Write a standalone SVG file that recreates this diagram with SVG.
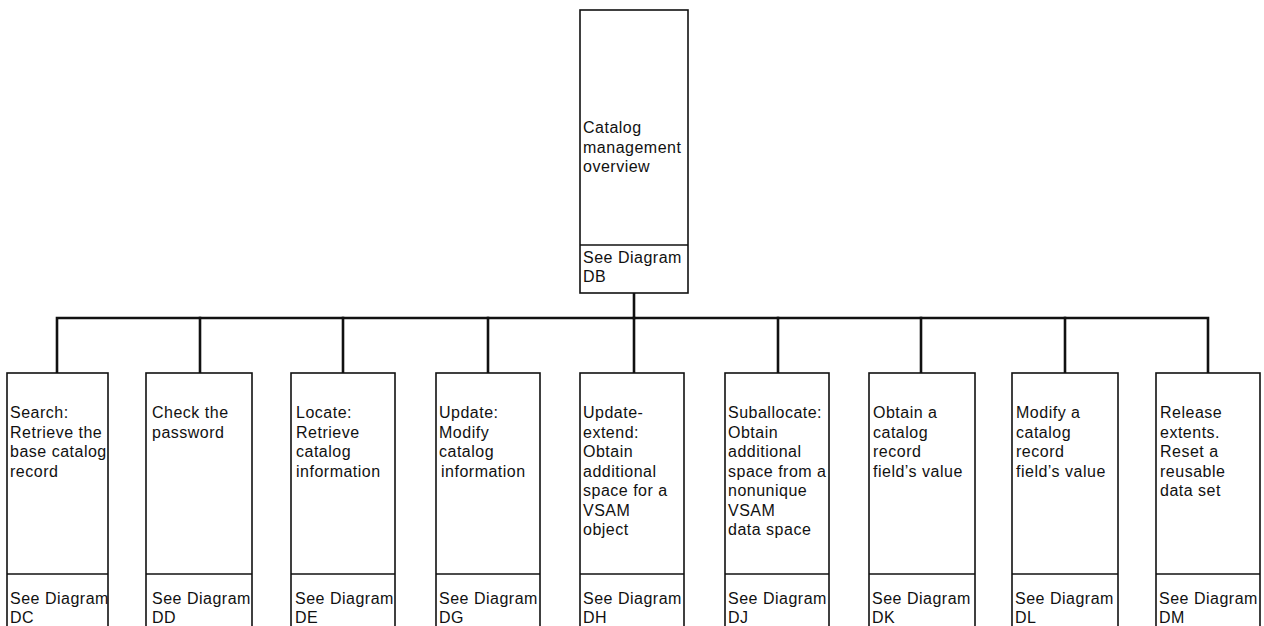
<svg xmlns="http://www.w3.org/2000/svg" width="1264" height="626" viewBox="0 0 1264 626">
  <style>
    .box { fill: #ffffff; stroke: #111111; stroke-width: 1.6; }
    .div { stroke: #111111; stroke-width: 1.6; }
    .wire { fill: none; stroke: #111111; stroke-width: 2.6; stroke-linecap: square; }
    text { font-family: "Liberation Sans", Arial, sans-serif; font-size: 16px; letter-spacing: 0.5px; fill: #111111; }
  </style>
  <rect width="1264" height="626" fill="#ffffff"/>

  <!-- connectors: trunk from the overview box, horizontal bus, drops to each box -->
  <g id="connectors">
    <path class="wire" d="M634 293 V318"/>
    <path class="wire" d="M57 373 V318 H1208 V373"/>
    <path class="wire" d="M200 318 V373"/>
    <path class="wire" d="M343 318 V373"/>
    <path class="wire" d="M488 318 V373"/>
    <path class="wire" d="M634 318 V373"/>
    <path class="wire" d="M778 318 V373"/>
    <path class="wire" d="M921 318 V373"/>
    <path class="wire" d="M1065 318 V373"/>
  </g>

  <g id="node-DA">
    <rect class="box" x="580" y="10" width="108" height="283"/>
    <line class="div" x1="580" y1="245" x2="688" y2="245"/>
    <text x="583"><tspan x="583" y="133">Catalog</tspan><tspan x="583" y="153">management</tspan><tspan x="583" y="172">overview</tspan></text>
    <text x="583"><tspan x="583" y="263">See Diagram</tspan><tspan x="583" y="282">DB</tspan></text>
  </g>

  <g id="node-DC">
    <rect class="box" x="7" y="373" width="101" height="270"/>
    <line class="div" x1="7" y1="574" x2="108" y2="574"/>
    <text><tspan x="10" y="418">Search:</tspan><tspan x="10" y="438">Retrieve the</tspan><tspan x="10" y="457">base catalog</tspan><tspan x="10" y="477">record</tspan></text>
    <text><tspan x="10" y="604">See Diagram</tspan><tspan x="10" y="623">DC</tspan></text>
  </g>

  <g id="node-DD">
    <rect class="box" x="146" y="373" width="106" height="270"/>
    <line class="div" x1="146" y1="574" x2="252" y2="574"/>
    <text><tspan x="152" y="418">Check the</tspan><tspan x="152" y="438">password</tspan></text>
    <text><tspan x="152" y="604">See Diagram</tspan><tspan x="152" y="623">DD</tspan></text>
  </g>

  <g id="node-DE">
    <rect class="box" x="291" y="373" width="104" height="270"/>
    <line class="div" x1="291" y1="574" x2="395" y2="574"/>
    <text><tspan x="296" y="418">Locate:</tspan><tspan x="296" y="438">Retrieve</tspan><tspan x="296" y="457">catalog</tspan><tspan x="296" y="477">information</tspan></text>
    <text><tspan x="295" y="604">See Diagram</tspan><tspan x="295" y="623">DE</tspan></text>
  </g>

  <g id="node-DG">
    <rect class="box" x="436" y="373" width="104" height="270"/>
    <line class="div" x1="436" y1="574" x2="540" y2="574"/>
    <text><tspan x="439" y="418">Update:</tspan><tspan x="439" y="438">Modify</tspan><tspan x="439" y="457">catalog</tspan><tspan x="441" y="477">information</tspan></text>
    <text><tspan x="439" y="604">See Diagram</tspan><tspan x="439" y="623">DG</tspan></text>
  </g>

  <g id="node-DH">
    <rect class="box" x="580" y="373" width="104" height="270"/>
    <line class="div" x1="580" y1="574" x2="684" y2="574"/>
    <text><tspan x="583" y="418">Update-</tspan><tspan x="583" y="438">extend:</tspan><tspan x="583" y="457">Obtain</tspan><tspan x="583" y="477">additional</tspan><tspan x="583" y="496">space for a</tspan><tspan x="583" y="516">VSAM</tspan><tspan x="583" y="535">object</tspan></text>
    <text><tspan x="583" y="604">See Diagram</tspan><tspan x="583" y="623">DH</tspan></text>
  </g>

  <g id="node-DJ">
    <rect class="box" x="725" y="373" width="104" height="270"/>
    <line class="div" x1="725" y1="574" x2="829" y2="574"/>
    <text><tspan x="728" y="418">Suballocate:</tspan><tspan x="728" y="438">Obtain</tspan><tspan x="728" y="457">additional</tspan><tspan x="728" y="477">space from a</tspan><tspan x="728" y="496">nonunique</tspan><tspan x="728" y="516">VSAM</tspan><tspan x="728" y="535">data space</tspan></text>
    <text><tspan x="728" y="604">See Diagram</tspan><tspan x="728" y="623">DJ</tspan></text>
  </g>

  <g id="node-DK">
    <rect class="box" x="869" y="373" width="106" height="270"/>
    <line class="div" x1="869" y1="574" x2="975" y2="574"/>
    <text><tspan x="873" y="418">Obtain a</tspan><tspan x="873" y="438">catalog</tspan><tspan x="873" y="457">record</tspan><tspan x="873" y="477">field’s value</tspan></text>
    <text><tspan x="872" y="604">See Diagram</tspan><tspan x="872" y="623">DK</tspan></text>
  </g>

  <g id="node-DL">
    <rect class="box" x="1012" y="373" width="106" height="270"/>
    <line class="div" x1="1012" y1="574" x2="1118" y2="574"/>
    <text><tspan x="1016" y="418">Modify a</tspan><tspan x="1016" y="438">catalog</tspan><tspan x="1016" y="457">record</tspan><tspan x="1016" y="477">field’s value</tspan></text>
    <text><tspan x="1015" y="604">See Diagram</tspan><tspan x="1015" y="623">DL</tspan></text>
  </g>

  <g id="node-DM">
    <rect class="box" x="1156" y="373" width="104" height="270"/>
    <line class="div" x1="1156" y1="574" x2="1260" y2="574"/>
    <text><tspan x="1160" y="418">Release</tspan><tspan x="1160" y="438">extents.</tspan><tspan x="1160" y="457">Reset a</tspan><tspan x="1160" y="477">reusable</tspan><tspan x="1160" y="496">data set</tspan></text>
    <text><tspan x="1159" y="604">See Diagram</tspan><tspan x="1159" y="623">DM</tspan></text>
  </g>
</svg>
